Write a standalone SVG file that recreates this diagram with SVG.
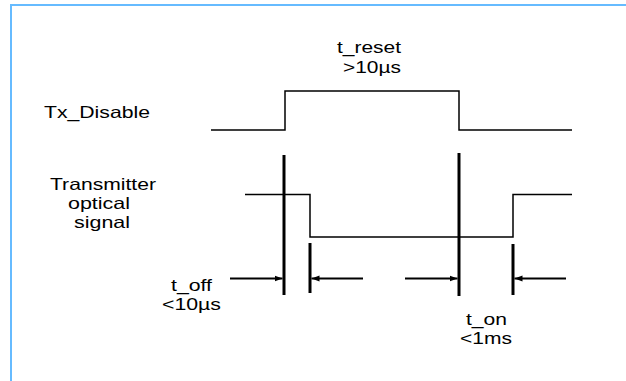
<svg xmlns="http://www.w3.org/2000/svg" width="626" height="381" viewBox="0 0 626 381">
  <style>
    .lbl { font-family: "Liberation Sans", Arial, Helvetica, sans-serif; font-size: 16.5px; fill: #000; }
    .wave { fill: none; stroke: #000; stroke-width: 1.5; }
    .mark { stroke: #000; stroke-width: 3; }
    .arr { stroke: #000; stroke-width: 2; fill: none; marker-end: url(#ah); }
  </style>
  <defs>
    <marker id="ah" markerUnits="userSpaceOnUse" markerWidth="9" markerHeight="7" refX="8" refY="3.5" orient="auto">
      <path d="M0,0.5 L8,3.5 L0,6.5 z" fill="#000"/>
    </marker>
  </defs>
  <rect width="626" height="381" fill="#fff"/>
  <path d="M11,381 V5 H626" fill="none" stroke="#66bbff" stroke-width="2"/>

  <g id="tx-disable">
    <text class="lbl" x="44" y="118" textLength="106" lengthAdjust="spacingAndGlyphs">Tx_Disable</text>
    <path class="wave" d="M211,130 H285 V91 H459 V130 H572"/>
  </g>

  <g id="t-reset">
    <text class="lbl" x="337" y="53" textLength="64" lengthAdjust="spacingAndGlyphs">t_reset</text>
    <text class="lbl" x="343" y="73" textLength="58" lengthAdjust="spacingAndGlyphs">&gt;10µs</text>
  </g>

  <g id="transmitter">
    <text class="lbl" x="50" y="189.5" textLength="106" lengthAdjust="spacingAndGlyphs">Transmitter</text>
    <text class="lbl" x="68" y="208.5" textLength="62" lengthAdjust="spacingAndGlyphs">optical</text>
    <text class="lbl" x="74" y="227.5" textLength="56" lengthAdjust="spacingAndGlyphs">signal</text>
    <path class="wave" d="M245,194.5 H310 V237 H513 V194.5 H572"/>
  </g>

  <g id="markers">
    <line class="mark" x1="284" y1="155" x2="284" y2="295"/>
    <line class="mark" x1="310" y1="243" x2="310" y2="293"/>
    <line class="mark" x1="459" y1="153" x2="459" y2="296"/>
    <line class="mark" x1="513" y1="244" x2="513" y2="295"/>
  </g>

  <g id="t-off">
    <text class="lbl" x="171" y="291" textLength="41" lengthAdjust="spacingAndGlyphs">t_off</text>
    <text class="lbl" x="162" y="310" textLength="59" lengthAdjust="spacingAndGlyphs">&lt;10µs</text>
  </g>

  <g id="t-on">
    <text class="lbl" x="466" y="325" textLength="41" lengthAdjust="spacingAndGlyphs">t_on</text>
    <text class="lbl" x="460" y="344" textLength="52" lengthAdjust="spacingAndGlyphs">&lt;1ms</text>
  </g>

  <g id="connectors">
    <line class="arr" x1="230" y1="278.5" x2="282.5" y2="278.5"/>
    <line class="arr" x1="363" y1="278.5" x2="311.5" y2="278.5"/>
    <line class="arr" x1="405" y1="278.5" x2="457.5" y2="278.5"/>
    <line class="arr" x1="566" y1="278.5" x2="514.5" y2="278.5"/>
  </g>
</svg>
